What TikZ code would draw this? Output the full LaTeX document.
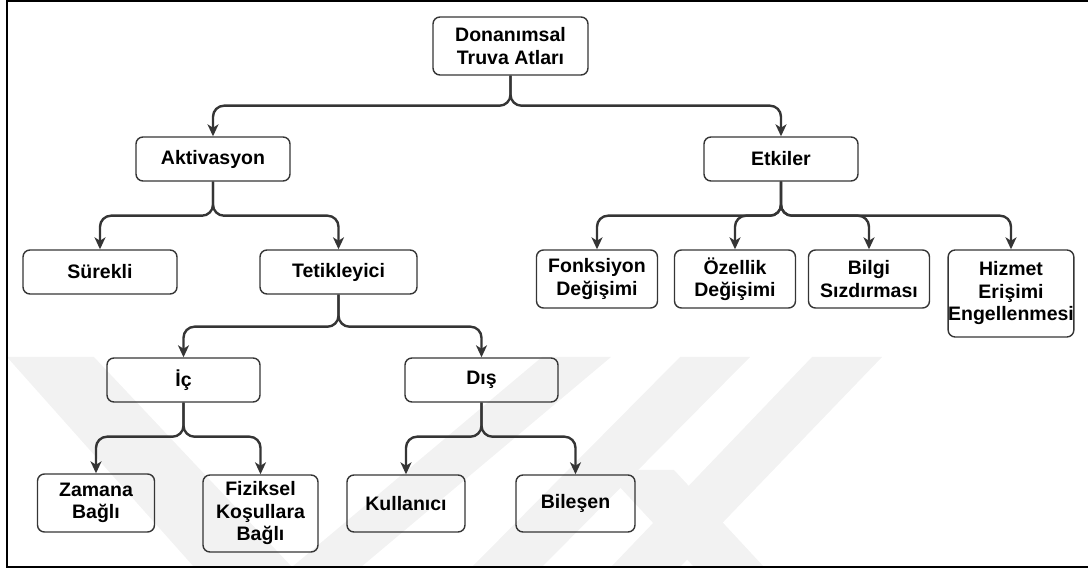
\documentclass[tikz,border=0pt]{standalone}
\usepackage{fontspec}
\setmainfont{Liberation Sans}
\usetikzlibrary{arrows.meta}
\definecolor{linegray}{HTML}{353535}
\definecolor{wmark}{HTML}{F2F2F2}
\begin{document}
\begin{tikzpicture}[x=1pt,y=-1pt,
  box/.style={draw=linegray, line width=1.4pt, rounded corners=7pt, align=center,
    inner sep=0pt, font=\fontsize{19.5}{22.5}\selectfont\bfseries, text=black},
  edge/.style={draw=linegray, line width=2.4pt, rounded corners=11pt,
    -{Stealth[length=12pt,width=11pt,inset=3.5pt]}}]
\useasboundingbox (0,0) rectangle (1088,569);

% faint background bands
\fill[wmark] (7,357) -- (94,357) -- (292,567) -- (194,567) -- cycle;
\fill[wmark] (542,357) -- (611,357) -- (361,567) -- (292,567) -- cycle;
\fill[wmark] (680,357) -- (750,357) -- (542,567) -- (472,567) -- cycle;
\fill[wmark] (812,357) -- (882,357) -- (680,567) -- (611,567) -- cycle;
\fill[wmark] (604,470) -- (674,470) -- (764,567) -- (694,567) -- cycle;

% outer frame
\draw[line width=2pt] (1088,1) -- (7,1) -- (7,567) -- (1088,567);

% nodes
\node[box, minimum width=155pt, minimum height=58pt] (root) at (510.5,46) {Donanımsal\\Truva Atları};
\node[box, minimum width=154pt, minimum height=44pt] (akt) at (213,159) {Aktivasyon};
\node[box, minimum width=154pt, minimum height=44pt] (etk) at (781,159) {Etkiler};
\node[box, minimum width=154pt, minimum height=44pt] (sur) at (100,272) {Sürekli};
\node[box, minimum width=157pt, minimum height=44pt] (tet) at (338.5,272) {Tetikleyici};
\node[box, minimum width=121pt, minimum height=58pt] (fonk) at (597,279) {Fonksiyon\\Değişimi};
\node[box, minimum width=121pt, minimum height=58pt] (ozel) at (735,279) {Özellik\\Değişimi};
\node[box, minimum width=121pt, minimum height=58pt] (bilgi) at (869,279) {Bilgi\\Sızdırması};
\node[box, minimum width=122pt, minimum height=87pt] (hiz) at (1011,293.5) {Hizmet\\Erişimi\\Engellenmesi};
\node[box, minimum width=153pt, minimum height=44pt] (ic) at (183.5,380) {İç};
\node[box, minimum width=153pt, minimum height=44pt] (dis) at (481.5,380) {Dış};
\node[box, minimum width=117pt, minimum height=58pt] (zam) at (96,503) {Zamana\\Bağlı};
\node[box, minimum width=115pt, minimum height=77pt] (fiz) at (260.5,513.5) {Fiziksel\\Koşullara\\Bağlı};
\node[box, minimum width=118pt, minimum height=57pt] (kul) at (406,503.5) {Kullanıcı};
\node[box, minimum width=119pt, minimum height=57pt] (bil) at (575.5,503.5) {Bileşen};

% connectors
\draw[edge] (root.south) -- ++(0,30) -| (akt.north);
\draw[edge] (root.south) -- ++(0,30) -| (etk.north);
\draw[edge] (akt.south) -- ++(0,34) -| (sur.north);
\draw[edge] (akt.south) -- ++(0,34) -| (tet.north);
\draw[edge] (etk.south) -- ++(0,34) -| (fonk.north);
\draw[edge] (etk.south) -- ++(0,34) -| (ozel.north);
\draw[edge] (etk.south) -- ++(0,34) -| (bilgi.north);
\draw[edge] (etk.south) -- ++(0,34) -| (hiz.north);
\draw[edge] (tet.south) -- ++(0,32) -| (ic.north);
\draw[edge] (tet.south) -- ++(0,32) -| (dis.north);
\draw[edge] (ic.south) -- ++(0,34) -| (zam.north);
\draw[edge] (ic.south) -- ++(0,34) -| (fiz.north);
\draw[edge] (dis.south) -- ++(0,34) -| (kul.north);
\draw[edge] (dis.south) -- ++(0,34) -| (bil.north);
\end{tikzpicture}
\end{document}
